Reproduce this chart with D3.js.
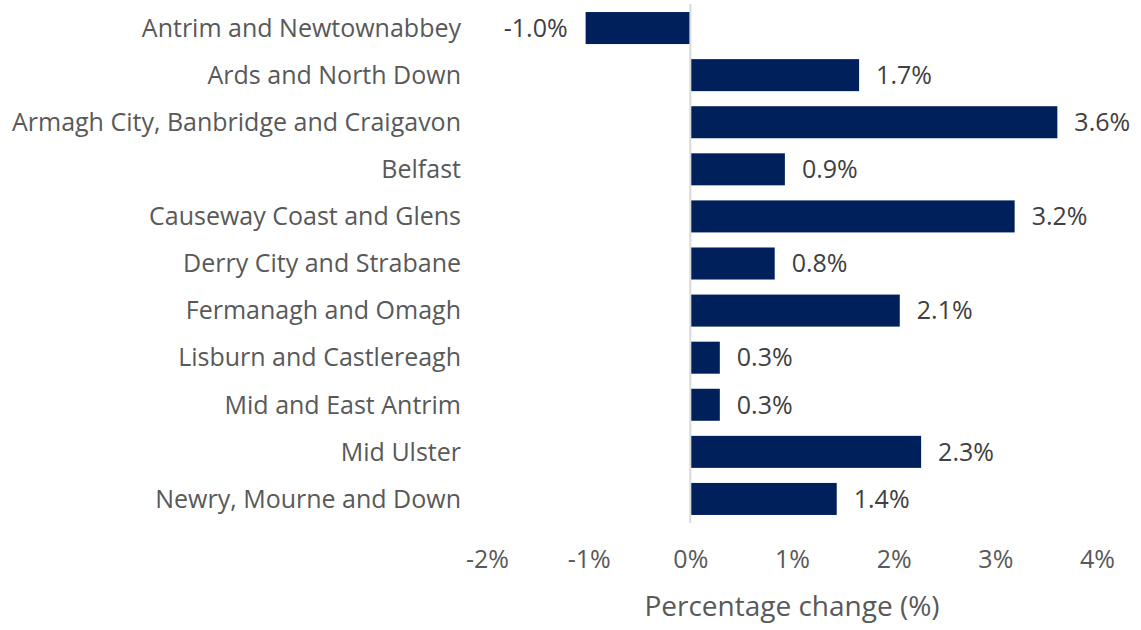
<!DOCTYPE html>
<html>
<head>
<meta charset="utf-8">
<script src="https://cdn.jsdelivr.net/npm/d3@7"></script>
<style>
  body { margin: 0; background: #fff; }
  svg { font-family: "Open Sans", Lato, sans-serif; }
</style>
</head>
<body>
<svg id="chart" width="1141" height="630"></svg>
<script>
const councils = [
  "Antrim and Newtownabbey",
  "Ards and North Down",
  "Armagh City, Banbridge and Craigavon",
  "Belfast",
  "Causeway Coast and Glens",
  "Derry City and Strabane",
  "Fermanagh and Omagh",
  "Lisburn and Castlereagh",
  "Mid and East Antrim",
  "Mid Ulster",
  "Newry, Mourne and Down"
];
const change = [-1.03, 1.66, 3.61, 0.93, 3.19, 0.83, 2.06, 0.29, 0.29, 2.27, 1.44];
const tickValues = [-2, -1, 0, 1, 2, 3, 4];

const svg = d3.select("#chart");
const fontSize = 25;

const x = d3.scaleLinear().domain([-2, 4]).range([487, 1097]);
const y = d3.scaleBand().domain(councils).range([4.5, 522.5]).paddingInner(0.32).paddingOuter(0.16);

const rows = councils.map((c, i) => ({ name: c, value: change[i] }));

// bars
svg.append("g").selectAll("rect")
  .data(rows)
  .enter()
  .append("rect")
  .attr("x", d => x(Math.min(0, d.value)))
  .attr("y", d => y(d.name))
  .attr("width", d => Math.abs(x(d.value) - x(0)))
  .attr("height", y.bandwidth())
  .attr("fill", "#00205b");

// zero line
svg.append("line")
  .attr("x1", x(0)).attr("x2", x(0))
  .attr("y1", 4).attr("y2", 523)
  .attr("stroke", "#d9d9d9")
  .attr("stroke-width", 2);

// category labels
svg.append("g").selectAll("text")
  .data(rows)
  .enter()
  .append("text")
  .attr("x", 461)
  .attr("y", d => y(d.name) + y.bandwidth() / 2)
  .attr("dy", "0.35em")
  .attr("text-anchor", "end")
  .attr("font-size", fontSize)
  .attr("fill", "#595959")
  .text(d => d.name);

// data labels
svg.append("g").selectAll("text")
  .data(rows)
  .enter()
  .append("text")
  .attr("x", d => d.value < 0 ? x(d.value) - 18 : x(d.value) + 17)
  .attr("y", d => y(d.name) + y.bandwidth() / 2)
  .attr("dy", "0.35em")
  .attr("text-anchor", d => d.value < 0 ? "end" : "start")
  .attr("font-size", fontSize)
  .attr("fill", "#404040")
  .text(d => d.value.toFixed(1) + "%");

// x axis labels
const axis = d3.axisBottom(x)
  .tickValues(tickValues)
  .tickFormat(d => d + "%")
  .tickSize(0)
  .tickPadding(0);

const ax = svg.append("g")
  .attr("transform", "translate(0, 550)")
  .call(axis);
ax.select(".domain").remove();
ax.selectAll("text")
  .attr("font-size", fontSize)
  .attr("font-family", "'Open Sans', Lato, sans-serif")
  .attr("fill", "#595959");

// axis title
svg.append("text")
  .attr("x", x(1))
  .attr("y", 606)
  .attr("dy", "0.35em")
  .attr("text-anchor", "middle")
  .attr("font-size", 28)
  .attr("fill", "#595959")
  .text("Percentage change (%)");
</script>
</body>
</html>
